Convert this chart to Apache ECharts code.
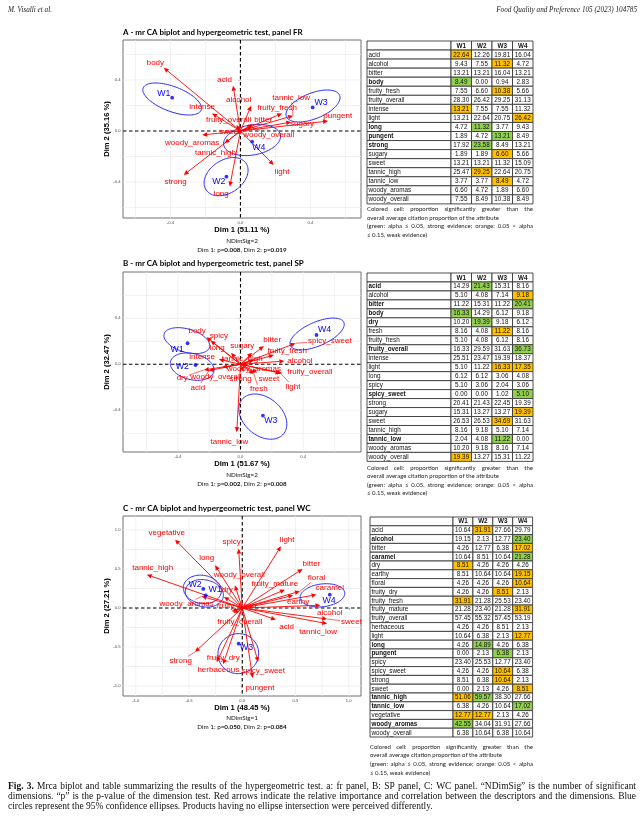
<!DOCTYPE html>
<html><head><meta charset="utf-8">
<script src="https://cdn.jsdelivr.net/npm/echarts@6/dist/echarts.min.js"></script>
<style>html,body{margin:0;padding:0;background:#fff}#c{width:644px;height:824px}</style>
</head><body><div id="c"></div>
<script>
// ======================= DATA =======================
const products = ['W1', 'W2', 'W3', 'W4'];
const ticksAB = [-0.4, 0, 0.4];
const ticksC = [-1, -0.5, 0, 0.5, 1];
const gridAB = [-0.6, -0.4, -0.2, 0.2, 0.4, 0.6];
const gridC = [-1, -0.75, -0.5, -0.25, 0.25, 0.5, 0.75, 1];

// ---- Panel A (FR) ----
const attrA = ['acid','alcohol','bitter','body','fruity_fresh','fruity_overall','intense','light','long','pungent','strong','sugary','sweet','tannic_high','tannic_low','woody_aromas','woody_overall'];
const tipA = [[-0.042,0.355],[0.061,0.198],[0.072,0.052],[-0.438,0.496],[0.238,0.138],[-0.023,0.047],[-0.162,0.138],[0.190,-0.266],[-0.061,-0.436],[0.501,0.078],[-0.324,-0.345],[0.290,0.070],[-0.019,-0.026],[-0.091,-0.097],[0.301,0.120],[-0.219,-0.031],[0.067,0.034]];
const labA = [[-0.090,0.405],[-0.010,0.245],[0.130,0.091],[-0.486,0.535],[0.210,0.185],[-0.067,0.086],[-0.219,0.188],[0.238,-0.319],[-0.110,-0.496],[0.556,0.120],[-0.371,-0.397],[0.352,0.060],[-0.061,-0.005],[-0.143,-0.170],[0.290,0.261],[-0.276,-0.089],[0.162,-0.031]];
const prodA = [[-0.390,0.261],[-0.080,-0.358],[0.413,0.185],[0.067,-0.084]];
const prodLabA = [[-0.438,0.295],[-0.124,-0.397],[0.461,0.222],[0.105,-0.131]];
// ellipse: centre x, centre y, major semi-axis vector (x,y), minor semi-axis vector (x,y)
const ellA = [[-0.390,0.251,0.1657,-0.0862,-0.0248,-0.0914],[-0.0819,-0.358,0.1143,0.1044,0.0522,-0.1076],[0.415,0.196,0.152,0.0836,0.0272,-0.0935],[0.0667,-0.0705,0.162,0.039,0.015,-0.116]];
const valsA = [[22.64,12.26,19.81,16.04],[9.43,7.55,11.32,4.72],[13.21,13.21,16.04,13.21],[8.49,0.00,0.94,2.83],[7.55,6.60,10.38,5.66],[28.30,26.42,29.25,31.13],[13.21,7.55,7.55,11.32],[13.21,22.64,20.75,26.42],[4.72,11.32,3.77,9.43],[1.89,4.72,13.21,8.49],[17.92,23.58,8.49,13.21],[1.89,1.89,6.60,5.66],[13.21,13.21,11.32,15.09],[25.47,29.25,22.64,20.75],[3.77,3.77,8.49,4.72],[6.60,4.72,1.89,6.60],[7.55,8.49,10.38,8.49]];
const sigA = ['o...','..o.','....','g...','..o.','....','o...','...o','.g..','..g.','.g..','..o.','....','.o..','..o.','....','....'];

// ---- Panel B (SP) ----
const attrB = ['acid','alcohol','bitter','body','dry','fresh','fruity_fresh','fruity_overall','intense','light','long','spicy','spicy_sweet','strong','sugary','sweet','tannic_high','tannic_low','woody_aromas','woody_overall'];
const tipB = [[-0.202,-0.055],[0.280,0.028],[0.149,0.159],[-0.217,0.235],[-0.234,-0.049],[0.085,-0.084],[0.213,0.081],[0.266,-0.078],[-0.138,0.043],[0.255,-0.078],[-0.060,0.101],[-0.191,0.206],[0.351,0.183],[0.021,-0.064],[0.074,0.101],[0.106,-0.072],[0.085,0.038],[-0.024,-0.591],[0.053,-0.006],[-0.117,-0.026]];
const labB = [[-0.272,-0.203],[0.379,0.032],[0.202,0.212],[-0.277,0.290],[-0.372,-0.116],[0.117,-0.217],[0.298,0.119],[0.443,-0.064],[-0.245,0.067],[0.336,-0.194],[-0.149,0.145],[-0.138,0.252],[0.570,0.203],[0.000,-0.130],[0.011,0.159],[0.181,-0.130],[0.011,0.052],[-0.071,-0.673],[0.085,-0.038],[-0.157,-0.107]];
const prodB = [[-0.338,0.183],[-0.287,-0.006],[0.143,-0.446],[0.485,0.255]];
const prodLabB = [[-0.404,0.125],[-0.372,-0.020],[0.193,-0.493],[0.536,0.304]];
const ellB = [[-0.3426,0.2058,0.1447,-0.058,-0.0209,-0.097],[-0.3085,-0.0203,0.1383,-0.0435,-0.0187,-0.1107],[0.1426,-0.455,0.1319,-0.1507,-0.0779,-0.1264],[0.489,0.2638,0.1702,0.1014,0.0304,-0.0945]];
const valsB = [[14.29,21.43,15.31,8.16],[5.10,4.08,7.14,9.18],[11.22,15.31,11.22,20.41],[16.33,14.29,6.12,9.18],[10.20,19.39,9.18,6.12],[8.16,4.08,11.22,8.16],[5.10,4.08,6.12,8.16],[16.33,29.59,31.63,36.73],[25.51,23.47,19.39,18.37],[5.10,11.22,16.33,17.35],[6.12,6.12,3.06,4.08],[5.10,3.06,2.04,3.06],[0.00,0.00,1.02,5.10],[20.41,21.43,22.45,19.39],[15.31,13.27,13.27,19.39],[26.53,26.53,34.69,31.63],[8.16,9.18,5.10,7.14],[2.04,4.08,11.22,0.00],[10.20,9.18,8.16,7.14],[19.39,13.27,15.31,11.22]];
const sigB = ['.g..','...o','...g','g...','.g..','..o.','....','...g','....','..oo','....','....','...g','....','...o','..o.','....','..g.','....','o...'];

// ---- Panel C (WC) ----
const attrC = ['acid','alcohol','bitter','caramel','dry','earthy','floral','fruity_dry','fruity_fresh','fruity_mature','fruity_overall','herbaceous','light','long','pungent','spicy','spicy_sweet','strong','sweet','tannic_high','tannic_low','vegetative','woody_aromas','woody_overall'];
const tipC = [[0.316,-0.150],[0.734,0.034],[0.566,0.500],[0.697,0.171],[-0.172,0.141],[0.478,0.162],[0.541,0.214],[-0.241,-0.697],[-0.100,-0.043],[0.400,0.235],[-0.084,-0.064],[-0.180,-0.720],[0.363,0.790],[-0.256,0.547],[0.097,-0.897],[-0.034,0.761],[0.150,-0.692],[-0.444,-0.564],[0.797,-0.141],[-0.897,0.427],[0.797,-0.200],[-0.631,0.876],[-0.381,0.150],[-0.069,0.290]];
const labC = [[0.416,-0.244],[0.822,-0.056],[0.650,0.568],[0.822,0.265],[-0.141,0.235],[0.525,0.085],[0.697,0.385],[-0.178,-0.641],[-0.053,0.030],[0.306,0.308],[-0.022,-0.180],[-0.225,-0.790],[0.422,0.876],[-0.334,0.641],[0.166,-1.026],[-0.100,0.842],[0.197,-0.803],[-0.578,-0.675],[1.025,-0.180],[-0.841,0.513],[0.713,-0.308],[-0.709,0.962],[-0.522,0.051],[-0.028,0.427]];
const prodC = [[-0.344,0.162],[-0.366,0.244],[-0.034,-0.457],[0.822,0.171]];
const prodLabC = [[-0.256,0.235],[-0.444,0.299],[0.041,-0.504],[0.816,0.094]];
const ellC = [[-0.356,0.188,0.178,-0.043,-0.019,-0.171],[-0.375,0.239,0.178,-0.034,-0.0156,-0.179],[-0.0375,-0.585,0.181,0.0855,0.061,-0.242],[0.753,0.162,0.209,0.034,0.0125,-0.145]];
const valsC = [[10.64,31.91,27.66,29.79],[19.15,2.13,12.77,23.40],[4.26,12.77,6.38,17.02],[10.64,8.51,10.64,21.28],[8.51,4.26,4.26,4.26],[8.51,10.64,10.64,19.15],[4.26,4.26,4.26,10.64],[4.26,4.26,8.51,2.13],[31.91,21.28,25.53,23.40],[21.28,23.40,21.28,31.91],[57.45,55.32,57.45,53.19],[4.26,4.26,8.51,2.13],[10.64,6.38,2.13,12.77],[4.26,14.89,4.26,6.38],[0.00,2.13,6.38,2.13],[23.40,25.53,12.77,23.40],[4.26,4.26,10.64,6.38],[8.51,6.38,10.64,2.13],[0.00,2.13,4.26,8.51],[51.06,59.57,38.30,27.66],[6.38,4.26,10.64,17.02],[12.77,12.77,2.13,4.26],[42.55,34.04,31.91,27.66],[6.38,10.64,6.38,10.64]];
const sigC = ['.o..','...g','...o','...g','o...','...o','...o','..o.','o...','...o','....','....','...o','.g..','..g.','....','..o.','..o.','...o','og..','...g','oo..','g...','....'];

// ---- texts ----
const panelTitles = ['A - mr CA biplot and hypergeometric test, panel FR','B - mr CA biplot and hypergeometric test, panel SP','C - mr CA biplot and hypergeometric test, panel WC'];
const dim1Titles = ['Dim 1 (51.11 %)','Dim 1 (51.67 %)','Dim 1 (48.45 %)'];
const dim2Titles = ['Dim 2 (35.16 %)','Dim 2 (32.47 %)','Dim 2 (27.21 %)'];
const nDimSig = [2, 2, 1];
const pDim1 = ['0.008','0.002','0.050'];
const pDim2 = ['0.019','0.008','0.084'];
const noteLines = ['Colored cell: proportion significantly greater than the','overall average citation proportion of the attribute','(green: alpha \u2264 0.05, strong evidence; orange: 0.05 < alpha','\u2264 0.15, weak evidence)'];
const captionLines = ['Fig. 3. Mrca biplot and table summarizing the results of the hypergeometric test. a: fr panel, B: SP panel, C: WC panel. \u201cNDimSig\u201d is the number of significant','dimensions. \u201cp\u201d is the p-value of the dimension test. Red arrows indicate the relative importance and correlation between the descriptors and the dimensions. Blue','circles represent the 95% confidence ellipses. Products having no ellipse intersection were perceived differently.'];
const headerLeft = 'M. Visalli et al.';
const headerRight = 'Food Quality and Preference 105 (2023) 104785';

// ======================= LAYOUT / STYLE =======================
const RED = '#ff0000', BLUE = '#0000ff', ELL = '#2a2aff';
const ORANGE = '#ffc000', GREEN = '#92d050';
const SANS = '"Liberation Sans", Arial, sans-serif';
const CAL = 'Lato, "Open Sans", sans-serif';
const SERIF = '"Liberation Serif", "DejaVu Serif", serif';
const LABFONT = 'normal 8px ' + SANS;

const panels = [
  {attr:attrA, tip:tipA, lab:labA, pts:prodA, plab:prodLabA, ell:ellA, vals:valsA, sig:sigA, ticks:ticksAB, gridVals:gridAB,
   box:{left:123, top:40, width:238, height:178}, xr:[-0.671,0.689], yr:[-0.6824,0.7137],
   titleY:32, titleW:180, xtY:230, nsY:240.5, pY:250,
   tbl:{left:367, top:41, nameW:84, colW:20.5, rowH:9.05}, noteX:367, noteY:209.3, noteW:166},
  {attr:attrB, tip:tipB, lab:labB, pts:prodB, plab:prodLabB, ell:ellB, vals:valsB, sig:sigB, ticks:ticksAB, gridVals:gridAB,
   box:{left:123, top:272, width:238, height:180}, xr:[-0.750,0.769], yr:[-0.763,0.803],
   titleY:263, titleW:181, xtY:464, nsY:475, pY:484.3,
   tbl:{left:367, top:273, nameW:84, colW:20.5, rowH:8.97}, noteX:367, noteY:467.7, noteW:166},
  {attr:attrC, tip:tipC, lab:labC, pts:prodC, plab:prodLabC, ell:ellC, vals:valsC, sig:sigC, ticks:ticksC, gridVals:gridC,
   box:{left:123, top:516, width:238, height:180}, xr:[-1.120,1.115], yr:[-1.128,1.179],
   titleY:508, titleW:188, xtY:708, nsY:718, pY:727,
   tbl:{left:370, top:517, nameW:83, colW:19.9, rowH:8.8}, noteX:370, noteY:747, noteW:163}
];

const mctx = document.createElement('canvas').getContext('2d');
function tw(text, font) { mctx.font = font; return mctx.measureText(text).width; }
function fitSize(text, weight, family, target) { const base = 10; return base * target / tw(text, weight + ' ' + base + 'px ' + family); }

const grids = [], xAxes = [], yAxes = [], series = [], graphics = [];

function textEl(x, y, text, font, opts) {
  opts = opts || {};
  return {type:'text', x:x, y:y, rotation:opts.rotation || 0, silent:true,
    style:{text:text, font:font, fill:opts.fill || '#000', align:opts.align || 'left', verticalAlign:'middle'}};
}
function justifyLine(words, fonts, x, y, width, fill) {
  const ws = words.map((w, i) => tw(w, fonts[i]));
  const tot = ws.reduce((a, b) => a + b, 0);
  const gap = words.length > 1 ? (width - tot) / (words.length - 1) : 0;
  let cx = x;
  words.forEach((w, i) => { graphics.push(textEl(cx, y, w, fonts[i], {fill:fill})); cx += ws[i] + gap; });
}

function addPlot(P, k) {
  const gi = grids.length;
  const b = P.box;
  grids.push({left:b.left, top:b.top, width:b.width, height:b.height, show:true, borderColor:'#707070', borderWidth:1,
    backgroundColor:'transparent', containLabel:false, outerBoundsMode:'none'});
  const lab = {customValues:P.ticks, formatter:v => v.toFixed(1), fontSize:4.2, color:'#4d4d4d', margin:2.5, fontFamily:SANS};
  const tick = {show:true, customValues:P.ticks, length:1.8, lineStyle:{color:'#555', width:0.6}};
  xAxes.push({gridIndex:gi, type:'value', min:P.xr[0], max:P.xr[1], axisLine:{show:false}, splitLine:{show:false}, axisTick:tick, axisLabel:lab});
  yAxes.push({gridIndex:gi, type:'value', min:P.yr[0], max:P.yr[1], axisLine:{show:false}, splitLine:{show:false}, axisTick:tick, axisLabel:lab});
  // background grid + dashed zero lines
  series.push({type:'custom', xAxisIndex:gi, yAxisIndex:gi, silent:true, z:1, data:[[0, 0]],
    renderItem(params, api) {
      const cs = params.coordSys, ch = [];
      P.gridVals.forEach(v => {
        const px = api.coord([v, 0])[0];
        if (px > cs.x + 0.5 && px < cs.x + cs.width - 0.5)
          ch.push({type:'line', shape:{x1:px, y1:cs.y, x2:px, y2:cs.y + cs.height}, style:{stroke:'#ebebeb', lineWidth:0.7}});
        const py = api.coord([0, v])[1];
        if (py > cs.y + 0.5 && py < cs.y + cs.height - 0.5)
          ch.push({type:'line', shape:{x1:cs.x, y1:py, x2:cs.x + cs.width, y2:py}, style:{stroke:'#ebebeb', lineWidth:0.7}});
      });
      const o = api.coord([0, 0]);
      ch.push({type:'line', shape:{x1:o[0], y1:cs.y, x2:o[0], y2:cs.y + cs.height}, style:{stroke:'#000', lineWidth:1.1, lineDash:[3.5, 2.5]}});
      ch.push({type:'line', shape:{x1:cs.x, y1:o[1], x2:cs.x + cs.width, y2:o[1]}, style:{stroke:'#000', lineWidth:1.1, lineDash:[3.5, 2.5]}});
      return {type:'group', children:ch};
    }});
  // confidence ellipses
  series.push({type:'custom', xAxisIndex:gi, yAxisIndex:gi, silent:true, z:2, data:P.ell,
    renderItem(params, api) {
      const v = [0,1,2,3,4,5].map(d => api.value(d));
      const pts = [];
      for (let j = 0; j <= 90; j++) {
        const t = j / 90 * 2 * Math.PI;
        pts.push(api.coord([v[0] + Math.cos(t) * v[2] + Math.sin(t) * v[4], v[1] + Math.cos(t) * v[3] + Math.sin(t) * v[5]]));
      }
      return {type:'polyline', shape:{points:pts}, style:{fill:null, stroke:ELL, lineWidth:1}};
    }});
  // arrows
  series.push({type:'custom', xAxisIndex:gi, yAxisIndex:gi, silent:true, z:3, data:P.tip,
    renderItem(params, api) {
      const o = api.coord([0, 0]);
      const h = api.coord([api.value(0), api.value(1)]);
      const dx = h[0] - o[0], dy = h[1] - o[1], L = Math.hypot(dx, dy) || 1;
      const ux = dx / L, uy = dy / L, hl = 5, hw = 2.3;
      const bx = h[0] - ux * hl, by = h[1] - uy * hl;
      return {type:'group', children:[
        {type:'line', shape:{x1:o[0], y1:o[1], x2:bx, y2:by}, style:{stroke:RED, lineWidth:0.9}},
        {type:'polygon', shape:{points:[[h[0], h[1]], [bx - uy * hw, by + ux * hw], [bx + uy * hw, by - ux * hw]]}, style:{fill:RED}}
      ]};
    }});
  // attribute labels
  series.push({type:'custom', xAxisIndex:gi, yAxisIndex:gi, silent:true, z:4,
    data:P.tip.map((t, i) => [t[0], t[1], P.lab[i][0], P.lab[i][1]]),
    renderItem(params, api) {
      const name = P.attr[params.dataIndex];
      const tip = api.coord([api.value(0), api.value(1)]);
      const c = api.coord([api.value(2), api.value(3)]);
      const ch = [];
      const w = tw(name, LABFONT), hw = w / 2 + 1, hh = 4.5;
      const dx = tip[0] - c[0], dy = tip[1] - c[1];
      const s = Math.min(dx ? hw / Math.abs(dx) : Infinity, dy ? hh / Math.abs(dy) : Infinity);
      if (s < 1) {
        const ex = c[0] + dx * s, ey = c[1] + dy * s;
        if (Math.hypot(tip[0] - ex, tip[1] - ey) > 7)
          ch.push({type:'line', shape:{x1:ex, y1:ey, x2:tip[0], y2:tip[1]}, style:{stroke:RED, lineWidth:0.6}});
      }
      ch.push({type:'text', x:c[0], y:c[1], style:{text:name, font:LABFONT, fill:RED, align:'center', verticalAlign:'middle'}});
      return {type:'group', children:ch};
    }});
  // product points
  series.push({type:'scatter', xAxisIndex:gi, yAxisIndex:gi, silent:true, z:5, data:P.pts, symbol:'circle', symbolSize:3.8, itemStyle:{color:BLUE}});
  series.push({type:'custom', xAxisIndex:gi, yAxisIndex:gi, silent:true, z:5, data:P.plab,
    renderItem(params, api) {
      const c = api.coord([api.value(0), api.value(1)]);
      return {type:'text', x:c[0], y:c[1], style:{text:products[params.dataIndex], font:'normal 8.8px ' + SANS, fill:BLUE, align:'center', verticalAlign:'middle'}};
    }});
  // texts around the plot
  const cx = b.left + b.width / 2;
  const tSize = fitSize(panelTitles[k], 'bold', CAL, P.titleW);
  graphics.push(textEl(b.left, P.titleY, panelTitles[k], 'bold ' + tSize.toFixed(2) + 'px ' + CAL));
  graphics.push(textEl(cx, P.xtY, dim1Titles[k], 'bold 7.6px ' + SANS, {align:'center'}));
  graphics.push(textEl(107, b.top + b.height / 2, dim2Titles[k], 'bold 7.6px ' + SANS, {align:'center', rotation:Math.PI / 2}));
  graphics.push(textEl(cx, P.nsY, 'NDimSig=' + nDimSig[k], 'normal 6.3px ' + CAL, {align:'center', fill:'#111'}));
  graphics.push({type:'text', x:cx, y:P.pY, silent:true, style:{
    text:'{n|Dim 1: p=}{b|' + pDim1[k] + '}{n|, Dim 2: p=}{b|' + pDim2[k] + '}',
    align:'center', verticalAlign:'middle', fill:'#111',
    rich:{n:{fontSize:6.3, fontFamily:CAL, fontWeight:'normal', fill:'#111'}, b:{fontSize:6.3, fontFamily:CAL, fontWeight:'bold', fill:'#111'}}}});
}

function addTable(P) {
  const T = P.tbl, nRows = P.attr.length + 1;
  const H = T.rowH * nRows;
  const rowCats = ['hdr'].concat(P.attr);
  // attribute-name column
  let gi = grids.length;
  grids.push({left:T.left, top:T.top, width:T.nameW, height:H, show:false, containLabel:false, outerBoundsMode:'none'});
  xAxes.push({gridIndex:gi, type:'category', data:['attribute'], show:false});
  yAxes.push({gridIndex:gi, type:'category', data:rowCats, inverse:true, show:false});
  series.push({type:'custom', xAxisIndex:gi, yAxisIndex:gi, silent:true, z:3,
    data:rowCats.map((_, r) => [0, r]),
    renderItem(params, api) {
      const r = params.dataIndex;
      const p = api.coord([0, r]), s = api.size([0, r]);
      const x = p[0] - s[0] / 2, y = p[1] - s[1] / 2;
      const ch = [{type:'rect', shape:{x:x, y:y, width:s[0], height:s[1]}, style:{fill:'#fff', stroke:'#3a3a3a', lineWidth:0.9}}];
      if (r > 0) {
        const bold = P.sig[r - 1].indexOf('g') >= 0;
        ch.push({type:'text', x:x + 1.5, y:p[1] + 0.3, style:{text:P.attr[r - 1], font:(bold ? 'bold' : 'normal') + ' 6.3px ' + SANS, fill:'#111', align:'left', verticalAlign:'middle'}});
      }
      return {type:'group', children:ch};
    }});
  // value columns
  gi = grids.length;
  grids.push({left:T.left + T.nameW, top:T.top, width:T.colW * 4, height:H, show:false, containLabel:false, outerBoundsMode:'none'});
  xAxes.push({gridIndex:gi, type:'category', data:products, show:false});
  yAxes.push({gridIndex:gi, type:'category', data:rowCats, inverse:true, show:false});
  const cells = [];
  rowCats.forEach((_, r) => products.forEach((__, c) => cells.push([c, r])));
  series.push({type:'custom', xAxisIndex:gi, yAxisIndex:gi, silent:true, z:3, data:cells,
    renderItem(params, api) {
      const c = api.value(0), r = api.value(1);
      const p = api.coord([c, r]), s = api.size([c, r]);
      const x = p[0] - s[0] / 2, y = p[1] - s[1] / 2;
      let fill = '#fff', text, bold = false;
      if (r === 0) { text = products[c]; bold = true; }
      else {
        text = P.vals[r - 1][c].toFixed(2);
        const code = P.sig[r - 1][c];
        if (code === 'o') fill = ORANGE; else if (code === 'g') fill = GREEN;
      }
      return {type:'group', children:[
        {type:'rect', shape:{x:x, y:y, width:s[0], height:s[1]}, style:{fill:fill, stroke:'#3a3a3a', lineWidth:0.9}},
        {type:'text', x:p[0], y:p[1] + 0.3, style:{text:text, font:(bold ? 'bold' : 'normal') + ' 6.3px ' + SANS, fill:'#111', align:'center', verticalAlign:'middle'}}
      ]};
    }});
  // note under the table
  const nf = 'normal 6px ' + CAL;
  noteLines.forEach((line, i) => {
    const y = P.noteY + i * 8.55;
    if (i === 0 || i === 2) justifyLine(line.split(' '), line.split(' ').map(() => nf), P.noteX, y, P.noteW, '#222');
    else graphics.push(textEl(P.noteX, y, line, nf, {fill:'#222'}));
  });
}

panels.forEach((P, k) => { addPlot(P, k); addTable(P); });

// header
graphics.push(textEl(8, 10, headerLeft, 'italic normal 7.2px ' + SERIF, {fill:'#222'}));
graphics.push(textEl(637, 10, headerRight, 'italic normal 7.2px ' + SERIF, {fill:'#222', align:'right'}));
// caption (font sized so the first line fills the text width with normal spacing)
const capSize = Math.min(fitSize(captionLines[0], 'normal', SERIF, 615), fitSize(captionLines[1], 'normal', SERIF, 615)).toFixed(2);
const capF = 'normal ' + capSize + 'px ' + SERIF, capB = 'bold ' + capSize + 'px ' + SERIF;
captionLines.forEach((line, i) => {
  const y = 787 + i * 9.6;
  const words = line.split(' ');
  const fonts = words.map((w, j) => (i === 0 && j < 2) ? capB : capF);
  if (i < 2) justifyLine(words, fonts, 8, y, 628, '#111');
  else justifyLine(words, fonts, 8, y, words.reduce((a, w, j) => a + tw(w, fonts[j]), 0) + (words.length - 1) * tw(' ', capF), '#111');
});

const chart = echarts.init(document.getElementById('c'), null, {renderer:'canvas', width:644, height:824});
chart.setOption({
  animation:false,
  backgroundColor:'#ffffff',
  grid:grids, xAxis:xAxes, yAxis:yAxes, series:series,
  graphic:{elements:graphics}
});
</script>
</body></html>
